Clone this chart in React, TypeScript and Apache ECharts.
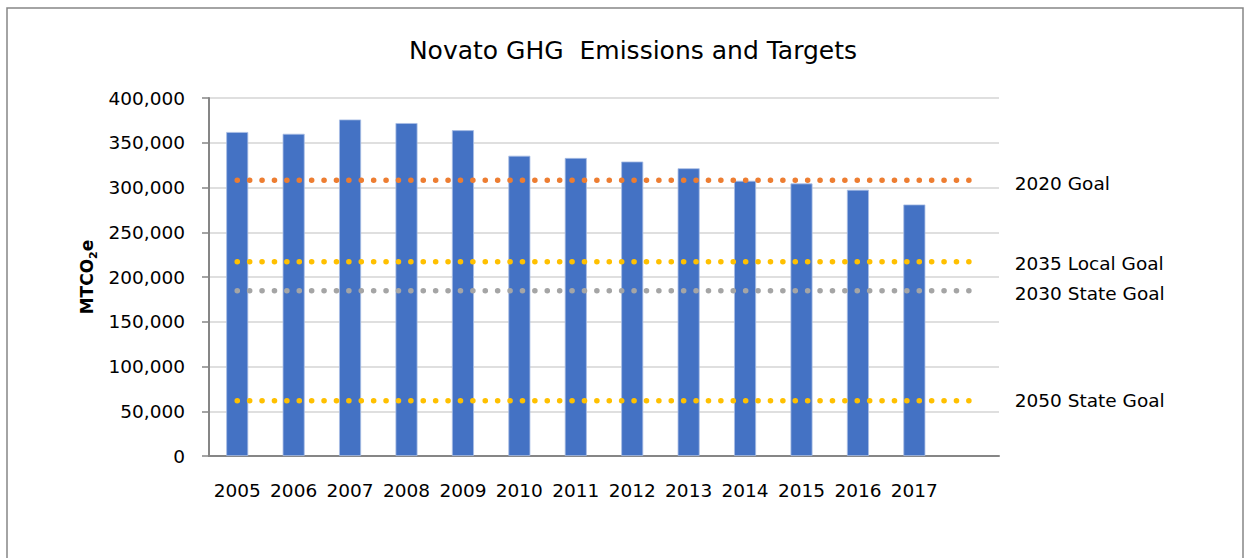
import React, { useEffect, useRef } from "react";
import * as echarts from "echarts";

const years = ["2005", "2006", "2007", "2008", "2009", "2010", "2011", "2012", "2013", "2014", "2015", "2016", "2017", ""];
const emissions = [362000, 360000, 376000, 372000, 364000, 335500, 333000, 329000, 321500, 307500, 304500, 297500, 281000];
const goalNames = ["2020 Goal", "2035 Local Goal", "2030 State Goal", "2050 State Goal"];
const goalValues = [308000, 217000, 184500, 61800];
const goalColors = ["#ED7D31", "#FFC000", "#A5A5A5", "#FFC000"];
const goalLabelOffsetY = [3, 2, 3, 0];
const yTicks = { min: 0, max: 400000, interval: 50000 };

const FONT = "DejaVu Sans";

export default function App() {
  const ref = useRef<HTMLDivElement>(null);
  useEffect(() => {
    if (!ref.current) return;
    const chart = echarts.init(ref.current, null, { renderer: "svg" });
    const lastIdx = years.length - 1;
    const lineSeries = goalNames.map((name, i) => ({
      name,
      type: "line",
      data: [
        [0, goalValues[i]],
        [lastIdx, goalValues[i]],
      ],
      symbol: "none",
      z: 5,
      lineStyle: { color: goalColors[i], width: 5.5, type: [0.1, 12.3], cap: "round" },
      endLabel: {
        show: true,
        formatter: name,
        distance: 44,
        offset: [0, goalLabelOffsetY[i]],
        color: "#000",
        fontFamily: FONT,
        fontSize: 18.5,
      },
    }));
    chart.setOption({
      animation: false,
      backgroundColor: "#fff",
      title: {
        text: "Novato GHG  Emissions and Targets",
        left: 628,
        textAlign: "center",
        top: 33,
        textStyle: { fontFamily: FONT, fontSize: 25, fontWeight: "normal", color: "#000" },
      },
      grid: { left: 209, top: 98, width: 790, height: 358, containLabel: false },
      xAxis: {
        type: "category",
        data: years,
        boundaryGap: true,
        axisLine: { show: true, lineStyle: { color: "#868686", width: 2 } },
        axisTick: { show: false },
        axisLabel: { color: "#000", fontFamily: FONT, fontSize: 18.5, margin: 25, interval: 0 },
      },
      yAxis: {
        type: "value",
        min: yTicks.min,
        max: yTicks.max,
        interval: yTicks.interval,
        axisLine: { show: true, lineStyle: { color: "#868686", width: 2 } },
        axisTick: { show: true, inside: false, length: 7, lineStyle: { color: "#868686", width: 1.5 } },
        splitLine: { show: true, lineStyle: { color: "#D4D4D4", width: 1.5 } },
        axisLabel: {
          color: "#000",
          fontFamily: FONT,
          fontSize: 18.5,
          margin: 24,
          formatter: (v: number) => v.toLocaleString("en-US"),
        },
      },
      series: [
        {
          name: "Emissions",
          type: "bar",
          data: emissions,
          barWidth: "39%",
          itemStyle: { color: "#4472C4", borderColor: "#A9BEE5", borderWidth: 0.8 },
          z: 2,
        },
        ...lineSeries,
      ],
      graphic: [
        {
          type: "rect",
          shape: { x: 7, y: 8, width: 1236, height: 600 },
          style: { fill: "none", stroke: "#868686", lineWidth: 1.5 },
          silent: true,
        },
        {
          type: "text",
          x: 87,
          y: 277,
          rotation: Math.PI / 2,
          style: {
            text: "{a|MTCO}{b|2}{a|e}",
            align: "center",
            verticalAlign: "middle",
            rich: {
              a: { fontFamily: FONT, fontSize: 17, fontWeight: "bold", fill: "#000", lineHeight: 24, verticalAlign: "middle" },
              b: { fontFamily: FONT, fontSize: 11, fontWeight: "bold", fill: "#000", lineHeight: 12, verticalAlign: "bottom" },
            },
          },
        },
      ],
    });
    return () => chart.dispose();
  }, []);
  return <div ref={ref} style={{ position: "fixed", left: 0, top: 0, width: 1244, height: 558 }} />;
}
